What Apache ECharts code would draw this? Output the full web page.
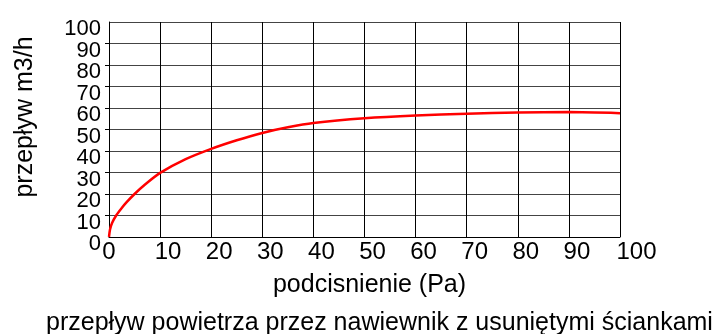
<!DOCTYPE html>
<html>
<head>
<meta charset="utf-8">
<script src="https://cdn.jsdelivr.net/npm/echarts@6/dist/echarts.min.js"></script>
<style>
html, body { margin: 0; padding: 0; background: #fff; }
#main { width: 720px; height: 334px; }
</style>
</head>
<body>
<div id="main"></div>
<script>
// podcisnienie (Pa) vs przeplyw m3/h
var pressure = [0, 0.2, 0.6, 1.4, 2.5, 3.5, 5, 7, 10, 15, 20, 25, 30, 35, 40, 50, 60, 70, 80, 90, 100];
var flow = [0, 3.5, 6.5, 10, 13.5, 16.3, 20, 24.3, 29.8, 36.2, 41, 45, 48.4, 51, 53, 55.2, 56.5, 57.3, 57.9, 58.1, 57.6];
var xTicks = [0, 10, 20, 30, 40, 50, 60, 70, 80, 90, 100];
var yTicks = [0, 10, 20, 30, 40, 50, 60, 70, 80, 90, 100];

var points = [];
for (var i = 0; i < pressure.length; i++) {
	points.push([pressure[i], flow[i]]);
}

var font = "'Liberation Sans', Arial, sans-serif";
var chart = echarts.init(document.getElementById('main'));

// x labels sit a bit to the right of their grid line, left edge ~5px before it
function xLabel(v) {
	var s = String(v);
	if (s.length == 1) return '{a|' + s + '}';
	if (s.length == 2) return '{b|' + s + '}';
	return '{c|' + s + '}';
}

var yLabelStyle = {
	fontFamily: font, fontSize: 22, color: '#000', margin: 8,
	lineHeight: 14, verticalAlign: 'top'
};

var option = {
	animation: false,
	backgroundColor: '#fff',
	title: {
		text: 'przepływ powietrza przez nawiewnik z usuniętymi ściankami',
		left: 41,
		top: 306,
		textStyle: { fontFamily: font, fontSize: 25, fontWeight: 'normal', color: '#000' }
	},
	grid: { left: 109, right: 100, top: 22, bottom: 97 },
	xAxis: {
		type: 'value',
		min: xTicks[0],
		max: xTicks[xTicks.length - 1],
		interval: 10,
		name: 'podcisnienie (Pa)',
		nameLocation: 'middle',
		nameGap: 36,
		nameTextStyle: { fontFamily: font, fontSize: 25, color: '#000', padding: [0, 0, 0, 10] },
		axisLine: { show: true, lineStyle: { color: '#000', width: 1 } },
		axisTick: { show: false },
		axisLabel: {
			fontFamily: font, fontSize: 24, color: '#000', margin: 3,
			showMinLabel: true, showMaxLabel: true,
			formatter: xLabel,
			rich: {
				a: { fontFamily: font, fontSize: 24, color: '#000', padding: [0, 0, 0, 0] },
				b: { fontFamily: font, fontSize: 24, color: '#000', padding: [0, 0, 0, 16] },
				c: { fontFamily: font, fontSize: 24, color: '#000', padding: [0, 0, 0, 33] }
			}
		},
		splitLine: { show: true, lineStyle: { color: '#000', width: 1 } }
	},
	yAxis: [{
		// inner labels 10..90, grid and ticks
		type: 'value',
		min: yTicks[0],
		max: yTicks[yTicks.length - 1],
		interval: 10,
		name: 'przepływ m3/h',
		nameLocation: 'middle',
		nameGap: 71,
		nameTextStyle: { fontFamily: font, fontSize: 25, color: '#000', padding: [0, 0, 0, 25] },
		axisLine: { show: true, lineStyle: { color: '#000', width: 1 } },
		axisTick: { show: true, length: 4, lineStyle: { color: '#000' } },
		axisLabel: Object.assign({ showMinLabel: false, showMaxLabel: false }, yLabelStyle),
		splitLine: { show: true, lineStyle: { color: '#444', width: 1 } }
	}, {
		// only the 0 and 100 labels
		type: 'value',
		position: 'left',
		min: yTicks[0],
		max: yTicks[yTicks.length - 1],
		interval: 100,
		axisLine: { show: false },
		axisTick: { show: false },
		axisLabel: Object.assign({ showMinLabel: true, showMaxLabel: true }, yLabelStyle),
		splitLine: { show: false }
	}],
	series: [{
		type: 'line',
		data: points,
		smooth: 0.25,
		showSymbol: false,
		lineStyle: { color: '#ff0000', width: 2.5 },
		itemStyle: { color: '#ff0000' }
	}]
};

chart.setOption(option, true);
</script>
</body>
</html>
